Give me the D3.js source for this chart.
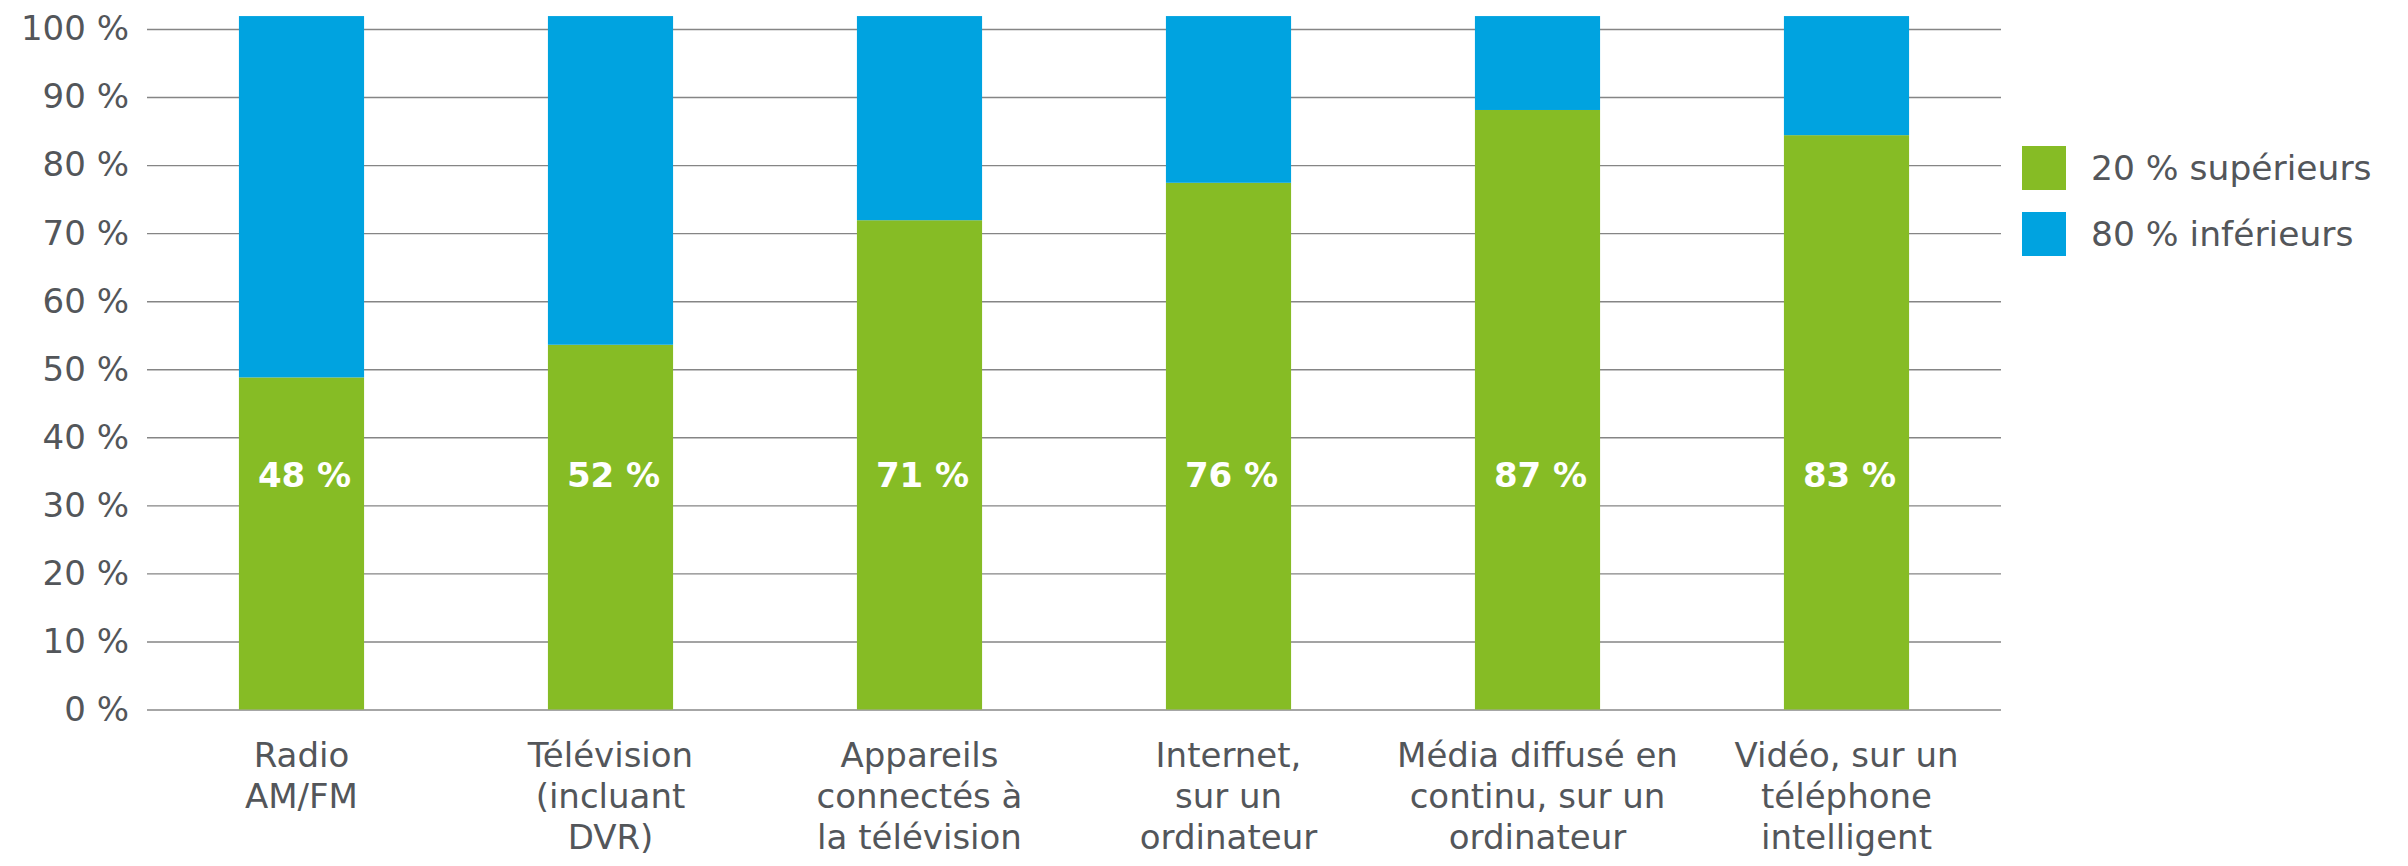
<!DOCTYPE html>
<html>
<head>
<meta charset="utf-8">
<script src="https://cdn.jsdelivr.net/npm/d3@7"></script>
<style>
  html, body { margin: 0; padding: 0; background: #ffffff; }
  svg { display: block; font-family: "DejaVu Sans", Verdana, sans-serif; }
</style>
</head>
<body>
<svg id="chart" width="2408" height="866"></svg>
<script>
// ---- Data ----
const categories = ["Radio AM/FM", "Télévision (incluant DVR)", "Appareils connectés à la télévision",
  "Internet, sur un ordinateur", "Média diffusé en continu, sur un ordinateur", "Vidéo, sur un téléphone intelligent"];
const categoryLines = [
  ["Radio", "AM/FM"],
  ["Télévision", "(incluant", "DVR)"],
  ["Appareils", "connectés à", "la télévision"],
  ["Internet,", "sur un", "ordinateur"],
  ["Média diffusé en", "continu, sur un", "ordinateur"],
  ["Vidéo, sur un", "téléphone", "intelligent"]
];
const top20 = [48.8, 53.6, 71.9, 77.4, 88.1, 84.4];
const bottom80 = [53.1, 48.3, 30.0, 24.5, 13.8, 17.5];
const valueLabels = ["48 %", "52 %", "71 %", "76 %", "87 %", "83 %"];
const seriesNames = ["20 % supérieurs", "80 % inférieurs"];
const yTicks = [0, 10, 20, 30, 40, 50, 60, 70, 80, 90, 100];
const labelLevel = 34.5;

// ---- Layout ----
const colors = ["#86BC25", "#00A3E0"];
const textColor = "#53565A";
const svg = d3.select("#chart");
const plotLeft = 147, plotRight = 2001, plotTop = 29, plotBottom = 709.5;

const x = d3.scaleBand().domain(categories).range([plotLeft, plotRight])
  .paddingInner(0.595).paddingOuter(0.2975);
const y = d3.scaleLinear().domain([0, 100]).range([plotBottom, plotTop]);

// gridlines + y labels
const yAxis = d3.axisLeft(y).tickValues(yTicks).tickFormat(d => d + " %")
  .tickSize(-(plotRight - plotLeft)).tickPadding(18);
const gy = svg.append("g").attr("transform", `translate(${plotLeft},0)`).call(yAxis);
gy.select(".domain").remove();
gy.selectAll(".tick line").attr("stroke", d => d === 0 ? "#a6a6a6" : "#858585")
  .attr("stroke-width", d => d === 0 ? 2 : 1.4);
gy.selectAll(".tick text").attr("fill", textColor).attr("font-size", 34)
  .attr("font-family", "DejaVu Sans, Verdana, sans-serif");

// stacked data
const rows = categories.map((c, i) => ({cat: c, s0: top20[i], s1: bottom80[i]}));
const stack = d3.stack().keys(["s0", "s1"])(rows);

svg.append("g").selectAll("g").data(stack).join("g")
  .attr("fill", (d, i) => colors[i])
  .selectAll("rect").data(d => d).join("rect")
  .attr("x", d => x(d.data.cat))
  .attr("width", x.bandwidth())
  .attr("y", d => y(d[1]))
  .attr("height", d => y(d[0]) - y(d[1]));

// value labels
svg.append("g").selectAll("text").data(categories).join("text")
  .attr("x", d => x(d) + x.bandwidth() / 2 + 3)
  .attr("y", y(labelLevel))
  .attr("dy", "0.36em")
  .attr("text-anchor", "middle")
  .attr("fill", "#ffffff")
  .attr("font-weight", "bold")
  .attr("font-size", 34)
  .text((d, i) => valueLabels[i]);

// category labels
const cl = svg.append("g").selectAll("text").data(categories).join("text")
  .attr("text-anchor", "middle")
  .attr("fill", textColor)
  .attr("font-size", 34)
  .attr("x", d => x(d) + x.bandwidth() / 2)
  .attr("y", 767);
cl.selectAll("tspan").data((d, i) => categoryLines[i]).join("tspan")
  .attr("x", function() { return d3.select(this.parentNode).attr("x"); })
  .attr("dy", (d, i) => i === 0 ? 0 : 41)
  .text(d => d);

// legend
const lg = svg.append("g").selectAll("g").data(seriesNames).join("g")
  .attr("transform", (d, i) => `translate(2022,${146 + i * 66})`);
lg.append("rect").attr("width", 44).attr("height", 44).attr("fill", (d, i) => colors[i]);
lg.append("text").attr("x", 69).attr("y", 22).attr("dy", "0.36em")
  .attr("fill", textColor).attr("font-size", 34.5).text(d => d);
</script>
</body>
</html>
